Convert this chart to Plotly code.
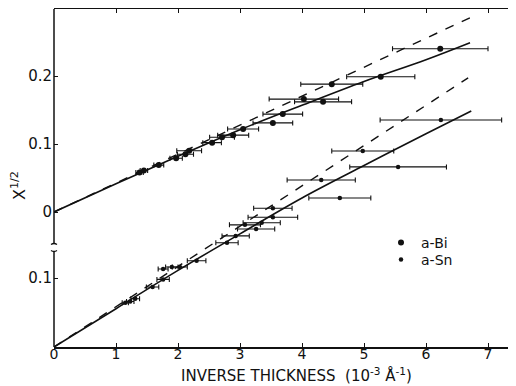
import plotly.graph_objects as go

# a-Bi (upper set, plotted on the offset upper scale)
bi_x = [1.38, 1.45, 1.69, 1.97, 2.12, 2.18, 2.55, 2.71, 2.89, 3.05, 3.53, 3.69, 4.03, 4.34, 4.48, 5.27, 6.23]
bi_y = [0.058, 0.061, 0.069, 0.079, 0.085, 0.090, 0.102, 0.110, 0.113, 0.122, 0.131, 0.144, 0.166, 0.162, 0.188, 0.199, 0.240]
bi_err = [0.06, 0.06, 0.08, 0.10, 0.13, 0.20, 0.15, 0.20, 0.25, 0.25, 0.32, 0.32, 0.56, 0.46, 0.50, 0.55, 0.77]

# a-Sn (lower set)
sn_x = [1.15, 1.23, 1.31, 1.59, 1.76, 1.76, 1.90, 2.03, 2.30, 2.79, 2.93, 3.08, 3.26, 3.35, 3.53, 3.53, 4.31, 4.61, 4.98, 5.55, 6.24]
sn_y = [0.064, 0.066, 0.070, 0.087, 0.098, 0.113, 0.116, 0.116, 0.125, 0.151, 0.161, 0.177, 0.171, 0.180, 0.188, 0.201, 0.242, 0.216, 0.284, 0.261, 0.329]
sn_err = [0.05, 0.06, 0.07, 0.10, 0.10, 0.08, 0.10, 0.12, 0.15, 0.18, 0.22, 0.25, 0.30, 0.30, 0.40, 0.31, 0.55, 0.50, 0.50, 0.78, 0.98]

# theory curves
bi_solid_x = [0, 1, 2, 3, 4, 5, 6, 6.71]
bi_solid_y = [0, 0.0415, 0.082, 0.121, 0.157, 0.192, 0.224, 0.249]
bi_dash_x = [0, 6.74]
bi_dash_y = [0, 0.287]
sn_solid_x = [0, 1, 2, 3, 4, 5, 6, 6.73]
sn_solid_y = [0, 0.0555, 0.111, 0.164, 0.216, 0.263, 0.309, 0.342]
sn_dash_x = [0, 6.68]
sn_dash_y = [0, 0.390]

x_ticks = [0, 1, 2, 3, 4, 5, 6, 7]
x_ticktext = ["0", "1", "2", "3", "4", "5", "6", "7"]
lower_ticks = [0.1]
lower_ticktext = ["0.1"]
upper_ticks = [0, 0.1, 0.2]
upper_ticktext = ["0", "0.1", "0.2"]

FONT = "DejaVu Sans"
BLACK = "#111111"

fig = go.Figure()

fig.add_trace(go.Scatter(x=sn_dash_x, y=sn_dash_y, mode="lines", yaxis="y",
                         line=dict(color=BLACK, width=1.4, dash="dash"), showlegend=False, hoverinfo="skip"))
fig.add_trace(go.Scatter(x=sn_solid_x, y=sn_solid_y, mode="lines", yaxis="y",
                         line=dict(color=BLACK, width=1.6, shape="spline"), showlegend=False, hoverinfo="skip"))
fig.add_trace(go.Scatter(x=bi_dash_x, y=bi_dash_y, mode="lines", yaxis="y2",
                         line=dict(color=BLACK, width=1.4, dash="dash"), showlegend=False, hoverinfo="skip"))
fig.add_trace(go.Scatter(x=bi_solid_x, y=bi_solid_y, mode="lines", yaxis="y2",
                         line=dict(color=BLACK, width=1.6, shape="spline"), showlegend=False, hoverinfo="skip"))

fig.add_trace(go.Scatter(x=bi_x, y=bi_y, mode="markers", yaxis="y2", name="a-Bi", legend="legend",
                         marker=dict(color=BLACK, size=6),
                         error_x=dict(type="data", array=bi_err, visible=True, color=BLACK,
                                      thickness=1.1, width=2.5)))
fig.add_trace(go.Scatter(x=sn_x, y=sn_y, mode="markers", yaxis="y", name="a-Sn", legend="legend2",
                         marker=dict(color=BLACK, size=4.5),
                         error_x=dict(type="data", array=sn_err, visible=True, color=BLACK,
                                      thickness=1.1, width=2.5)))

# page body has an 8px margin; plot area in window pixels: left 54, top 9, right 516, bottom 347
L_WIN, T_WIN, R_WIN, B_WIN = 54, 9, 516, 347
W_PLOT = R_WIN - L_WIN
H_PLOT = B_WIN - T_WIN


def py(p):
    return (B_WIN - p) / H_PLOT


def px(p):
    return (p - L_WIN) / W_PLOT


shapes = [
    dict(type="line", xref="paper", yref="paper", x0=0, x1=0, y0=0, y1=py(251.5),
         line=dict(color=BLACK, width=1.5)),
    dict(type="line", xref="paper", yref="paper", x0=0, x1=0, y0=py(243.5), y1=1,
         line=dict(color=BLACK, width=1.5)),
    dict(type="path", xref="paper", yref="paper", xsizemode="pixel", ysizemode="pixel",
         xanchor=0, yanchor=py(243.5), path="M -3,-1 Q 0,1 3,-1",
         line=dict(color=BLACK, width=1.3)),
    dict(type="path", xref="paper", yref="paper", xsizemode="pixel", ysizemode="pixel",
         xanchor=0, yanchor=py(251.5), path="M -3,1 Q 0,-1 3,1",
         line=dict(color=BLACK, width=1.3)),
]

annotations = [
    dict(text="INVERSE THICKNESS  (10<sup>-3</sup> Å<sup>-1</sup>)", xref="paper", yref="paper",
         x=px(296), y=py(375), xanchor="center", yanchor="middle", showarrow=False,
         font=dict(family=FONT, size=15, color=BLACK)),
    dict(text="X<sup>1/2</sup>", xref="paper", yref="paper", textangle=-90,
         x=px(18), y=py(186), xanchor="center", yanchor="middle", showarrow=False,
         font=dict(family=FONT, size=16, color=BLACK)),
]

legend_common = dict(xanchor="left", yanchor="middle", bgcolor="rgba(0,0,0,0)",
                     font=dict(family=FONT, size=14, color=BLACK), itemwidth=30)

fig.update_layout(
    width=L_WIN - 8 + W_PLOT, height=378,
    margin=dict(l=L_WIN - 8, r=0, t=T_WIN - 8, b=378 - (T_WIN - 8) - H_PLOT),
    paper_bgcolor="white", plot_bgcolor="white",
    font=dict(family=FONT, size=14, color=BLACK),
    xaxis=dict(range=[0, W_PLOT / 62.0], tickvals=x_ticks, ticktext=x_ticktext, ticks="inside", ticklen=4,
               tickwidth=1.2, tickcolor=BLACK, showline=True, linecolor=BLACK, linewidth=1.5,
               mirror="ticks", showgrid=False, zeroline=False, ticklabelstandoff=-7,
               tickfont=dict(family=FONT, size=14, color=BLACK)),
    yaxis=dict(range=[0, H_PLOT / 690.0], tickvals=lower_ticks, ticktext=lower_ticktext,
               ticks="inside", ticklen=4, tickwidth=1.2, tickcolor=BLACK, showline=False,
               showgrid=False, zeroline=False, ticklabelstandoff=1,
               tickfont=dict(family=FONT, size=15, color=BLACK)),
    yaxis2=dict(range=[-135 / 680.0, (H_PLOT - 135) / 680.0], tickvals=upper_ticks,
                ticktext=upper_ticktext, overlaying="y", side="left",
                ticks="inside", ticklen=4, tickwidth=1.2, tickcolor=BLACK, showline=False,
                showgrid=False, zeroline=False, ticklabelstandoff=1,
                tickfont=dict(family=FONT, size=15, color=BLACK)),
    legend=dict(x=px(381), y=py(243), **legend_common),
    legend2=dict(x=px(381), y=py(260), **legend_common),
    shapes=shapes,
    annotations=annotations,
)

fig.write_html("out.html")
